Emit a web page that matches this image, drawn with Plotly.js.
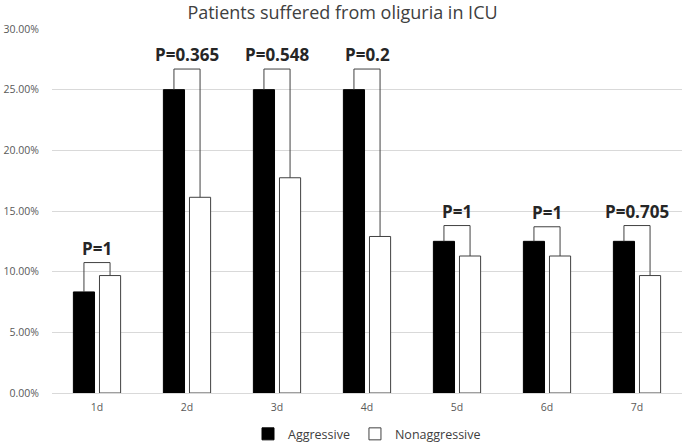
<!DOCTYPE html>
<html>
<head>
<meta charset="utf-8">
<script src="https://cdn.plot.ly/plotly-3.0.1.min.js"></script>
<style>html,body{margin:0;padding:0;background:#fff;}#chart{width:685px;height:444px;}</style>
</head>
<body>
<div id="chart"></div>
<script>
const days = ['1d','2d','3d','4d','5d','6d','7d'];
const aggressive = [0.0833, 0.25, 0.25, 0.25, 0.125, 0.125, 0.125];
const nonaggressive = [0.0968, 0.1613, 0.1774, 0.129, 0.1129, 0.1129, 0.0968];
const pLabels = ['P=1','P=0.365','P=0.548','P=0.2','P=1','P=1','P=0.705'];
const bracketLevels = [0.1075, 0.267, 0.267, 0.267, 0.138, 0.137, 0.138];

const bargap = 0.42;
const off = (1 - bargap) / 4;

const traces = [
  {type:'bar', name:'Aggressive', x:days, y:aggressive,
   marker:{color:'#000000', line:{color:'#000000', width:1}}},
  {type:'bar', name:'Nonaggressive', x:days, y:nonaggressive,
   marker:{color:'#ffffff', line:{color:'#404040', width:1}}}
];

const shapes = [];
const annotations = [];
days.forEach((d, i) => {
  const lvl = bracketLevels[i];
  const line = {color:'#404040', width:1};
  shapes.push({type:'line', xref:'x', yref:'y', x0:i-off, x1:i+off, y0:lvl, y1:lvl, line});
  shapes.push({type:'line', xref:'x', yref:'y', x0:i-off, x1:i-off, y0:lvl, y1:aggressive[i], line});
  shapes.push({type:'line', xref:'x', yref:'y', x0:i+off, x1:i+off, y0:lvl, y1:nonaggressive[i], line});
  annotations.push({x:i, y:lvl, xref:'x', yref:'y', text:'<b>'+pLabels[i]+'</b>',
    showarrow:false, yanchor:'bottom', yshift:1,
    font:{family:'Open Sans, sans-serif', size:17, color:'#262626'}});
});

const layout = {
  width:685, height:444,
  margin:{l:52, r:3, t:29, b:51, autoexpand:false},
  paper_bgcolor:'#fff', plot_bgcolor:'#fff',
  title:{text:'Patients suffered from oliguria in ICU', x:0.5, xanchor:'center',
    y:0.971, yanchor:'middle', yref:'container',
    font:{family:'Open Sans, sans-serif', size:18, color:'#404040'}},
  barmode:'group', bargap:bargap, bargroupgap:0.19,
  xaxis:{type:'category', showgrid:false, showline:true, linecolor:'#d9d9d9', linewidth:1,
    ticks:'', ticklabelstandoff:4, automargin:false,
    tickfont:{family:'Open Sans, sans-serif', size:10.5, color:'#595959'}},
  yaxis:{range:[0,0.30], tickvals:[0,0.05,0.10,0.15,0.20,0.25,0.30], tickformat:'.2%',
    showgrid:true, gridcolor:'#d9d9d9', gridwidth:1, zeroline:false, showline:false,
    ticks:'', ticklabelstandoff:12, automargin:false,
    tickfont:{family:'Open Sans, sans-serif', size:10.5, color:'#595959'}},
  legend:{orientation:'h', x:0.5, xanchor:'center', yref:'container', y:0.022, yanchor:'middle',
    itemwidth:30, tracegroupgap:0,
    font:{family:'Open Sans, sans-serif', size:12.5, color:'#404040'}},
  shapes, annotations,
  showlegend:true
};

Plotly.newPlot('chart', traces, layout, {displayModeBar:false, staticPlot:true});
</script>
</body>
</html>
